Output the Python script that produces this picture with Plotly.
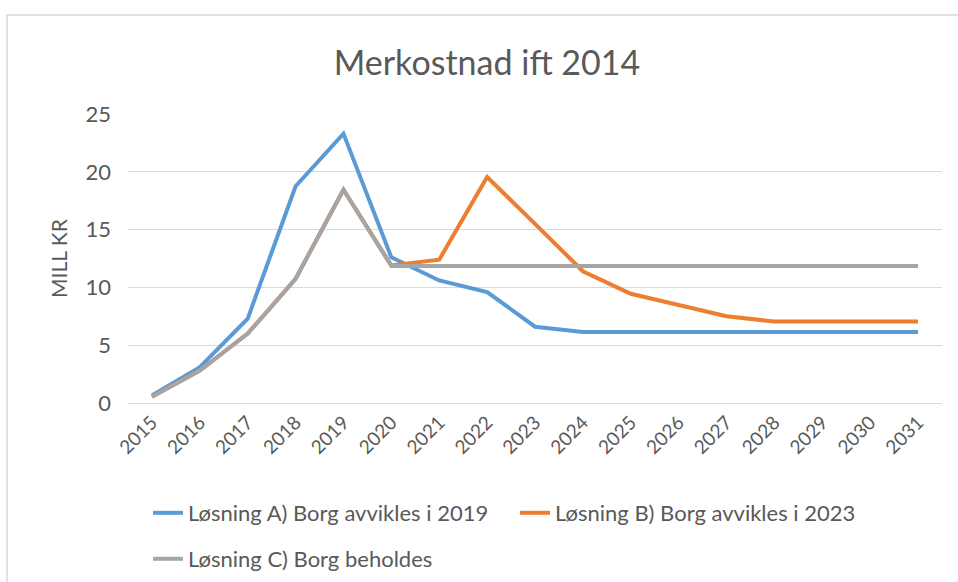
import plotly.graph_objects as go

years = [str(y) for y in range(2015, 2032)]

losning_a = [0.65, 3.1, 7.3, 18.75, 23.3, 12.6, 10.6, 9.6, 6.6, 6.15, 6.15, 6.15, 6.15, 6.15, 6.15, 6.15, 6.15]
losning_b = [0.55, 2.8, 6.0, 10.75, 18.45, 11.9, 12.4, 19.55, 15.5, 11.4, 9.45, 8.5, 7.5, 7.05, 7.05, 7.05, 7.05]
losning_c = [0.55, 2.8, 6.0, 10.75, 18.45, 11.85, 11.85, 11.85, 11.85, 11.85, 11.85, 11.85, 11.85, 11.85, 11.85, 11.85, 11.85]

names = ["Løsning A) Borg avvikles i 2019", "Løsning B) Borg avvikles i 2023", "Løsning C) Borg beholdes"]
colors = ["#5B9BD5", "#ED7D31", "#A5A5A5"]

FONT = "Lato"
TXT = "#595959"

W, H = 958, 582
L, R, T, B = 128, 16, 114, 179
pw, ph = W - L - R, H - T - B

fig = go.Figure()
for vals, name, col, lg in zip([losning_a, losning_b, losning_c], names, colors, ["legend", "legend", "legend2"]):
    fig.add_trace(go.Scatter(x=years, y=vals, mode="lines", name=name,
                             line=dict(color=col, width=4), legend=lg))

def px_x(px):
    return (px - L) / pw

def px_y(py):
    return (H - B - py) / ph

fig.update_layout(
    width=W, height=H,
    margin=dict(l=L, r=R, t=T, b=B, autoexpand=False),
    paper_bgcolor="white", plot_bgcolor="white",
    font=dict(family=FONT, color=TXT, size=20),
    title=dict(text="Merkostnad ift 2014", x=487 / W, xanchor="center",
               y=1 - 63 / H, yanchor="middle", xref="container", yref="container",
               font=dict(size=34, color=TXT, family=FONT)),
    xaxis=dict(type="category", tickangle=-45, showgrid=False, showline=True,
               linecolor="#D9D9D9", linewidth=1, ticks="", automargin=False,
               tickfont=dict(size=19, color=TXT), range=[-0.5, 16.5]),
    yaxis=dict(range=[0, 25], dtick=5, showgrid=True, gridcolor="#D9D9D9", gridwidth=1,
               zeroline=False, ticks="", automargin=False, ticklabelstandoff=16,
               tickfont=dict(size=22, color=TXT),
               title=dict(text="MILL KR", font=dict(size=21, color=TXT), standoff=12)),
    legend=dict(orientation="h", x=148 / W, y=1 - 492 / H, xref="container", yref="container",
                xanchor="left", yanchor="top",
                entrywidth=322, entrywidthmode="pixels", font=dict(size=22, color=TXT),
                bgcolor="rgba(0,0,0,0)"),
    legend2=dict(orientation="h", x=148 / W, y=1 - 538 / H, xref="container", yref="container",
                 xanchor="left", yanchor="top",
                 font=dict(size=22, color=TXT), bgcolor="rgba(0,0,0,0)"),
    showlegend=True,
    shapes=[dict(type="rect", xref="paper", yref="paper",
                 x0=px_x(7), x1=px_x(965), y0=px_y(600), y1=px_y(15),
                 line=dict(color="#D9D9D9", width=1.5), fillcolor="rgba(0,0,0,0)", layer="below")],
)

fig.write_html("out.html", config={"displayModeBar": False},
               post_script="document.body.style.margin='0';document.body.style.overflow='hidden';")
